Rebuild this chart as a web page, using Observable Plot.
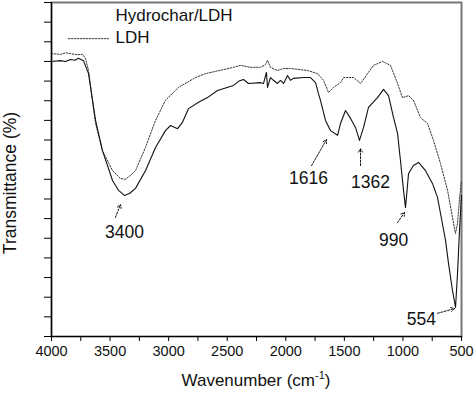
<!DOCTYPE html>
<html><head><meta charset="utf-8">
<script src="https://cdn.jsdelivr.net/npm/d3@7"></script>
<script src="https://cdn.jsdelivr.net/npm/@observablehq/plot@0.6"></script>
<style>
body{margin:0;background:#fff;}
svg{font-family:"Liberation Sans",Arial,sans-serif;}
</style>
</head><body><div id="chart"></div>
<script>
// Hydrochar/LDH spectrum (wavenumber, transmittance)
const hydroWn = [4000,3923,3880,3838,3800,3770,3727,3684,3624,3565,3479,3428,3377,3334,3283,3198,3112,3027,2984,2924,2882,2830,2745,2668,2583,2446,2400,2361,2318,2216,2190,2165,2156,2131,2105,2071,2045,2019,1985,1960,1934,1849,1789,1746,1721,1704,1661,1618,1558,1533,1490,1447,1405,1371,1336,1294,1217,1166,1123,1080,1046,1021,995,978,952,910,867,807,747,705,679,636,611,577,551,534,517,500];
const hydroT  = [70.0,70.2,70.0,70.5,70.3,70.8,70.2,66.9,55.0,47.3,39.7,37.2,35.9,36.4,37.7,42.2,48.1,52.4,53.7,52.9,54.5,58.0,59.6,60.8,62.6,63.9,65.0,65.4,64.4,64.6,64.4,67.2,63.4,65.9,65.2,64.4,65.2,64.4,66.4,65.2,65.7,65.9,65.9,64.6,61.8,60.1,55.0,52.4,51.2,54.2,57.5,55.5,53.2,49.9,53.2,58.3,60.8,62.9,61.3,55.7,51.7,44.8,37.2,32.8,41.5,43.5,44.3,42.2,38.9,35.4,31.3,24.4,18.6,11.7,7.4,16.0,27.0,35.9];

// LDH spectrum
const ldhWn = [4000,3923,3880,3838,3780,3735,3710,3684,3624,3565,3479,3411,3368,3326,3283,3198,3112,3027,2916,2771,2685,2446,2387,2301,2216,2173,2156,2131,2071,2019,1960,1815,1729,1678,1635,1593,1533,1507,1422,1362,1302,1251,1174,1106,1046,1004,952,910,850,790,739,679,619,577,551,534,517,500];
const ldhT  = [72.0,71.8,72.2,72.0,71.7,71.8,70.8,67.7,54.2,47.3,42.2,40.2,40.0,41.0,42.2,48.1,55.0,60.1,63.4,65.9,66.9,68.5,69.0,68.5,68.5,69.2,70.3,68.5,67.7,68.2,68.2,67.7,66.9,65.2,62.1,63.4,64.6,65.9,65.9,64.4,66.9,69.0,70.0,69.0,64.4,60.8,61.3,60.1,55.7,54.2,49.9,44.0,37.2,30.3,26.2,28.8,35.1,39.7];

// Peak annotations
const peakText  = ["3400","1616","1362","990","554"];
const peakLabWn = [3377,1806,1277,1080,842];
const peakLabT  = [26.5,40.2,39.2,24.4,4.3];
const arrowWn1  = [3454,1780,1362,1046,705];
const arrowT1   = [30.3,43.5,43.5,29.0,5.9];
const arrowWn2  = [3411,1652,1362,986,560];
const arrowT2   = [33.6,50.1,47.8,31.6,7.1];

// Legend
const legendNames = ["Hydrochar/LDH","LDH"];
const legendWn = [3454,3454];
const legendT  = [81.7,76.1];
const legendLineWn = [3855,3513];
const legendLineT  = 75.8;

const xTicks = d3.range(500, 4001, 250);
const yTicks = d3.range(0, 86, 5);

const hydro = hydroWn.map((w,i)=>({w, t: hydroT[i]}));
const ldh = ldhWn.map((w,i)=>({w, t: ldhT[i]}));
const peaks = peakText.map((s,i)=>({s, lw: peakLabWn[i], lt: peakLabT[i], x1: arrowWn1[i], y1: arrowT1[i], x2: arrowWn2[i], y2: arrowT2[i]}));
const legend = legendNames.map((n,i)=>({n, w: legendWn[i], t: legendT[i]}));
const legendLine = legendLineWn.map(w=>({w, t: legendLineT}));

const font = "Liberation Sans, Arial, sans-serif";

const chart = Plot.plot({
  width: 474, height: 395,
  marginLeft: 51, marginRight: 13, marginTop: 2, marginBottom: 59,
  style: {fontFamily: font, background: "#fff", overflow: "visible"},
  x: {domain: [4000, 500]},
  y: {domain: [0, 85]},
  marks: [
    Plot.frame({stroke: "#777", strokeWidth: 2}),
    Plot.axisX({ticks: xTicks, tickSize: 5, tickPadding: 4, fontSize: 14.5, label: null,
      tickFormat: d => d % 500 === 0 ? String(d) : "", stroke: "black", fill: "#111"}),
    Plot.axisY({ticks: yTicks, tickSize: 7, tickFormat: () => "", label: null, stroke: "black"}),
    Plot.ruleX([4000], {stroke: "black", strokeWidth: 1.2}),
    Plot.ruleY([0], {stroke: "black", strokeWidth: 1.2}),
    Plot.line(ldh, {x: "w", y: "t", stroke: "#333", strokeWidth: 1, strokeDasharray: "1.5,1.5"}),
    Plot.line(hydro, {x: "w", y: "t", stroke: "#111", strokeWidth: 1.1}),
    Plot.arrow(peaks, {x1: "x1", y1: "y1", x2: "x2", y2: "y2", stroke: "#111", strokeWidth: 1, headLength: 6, strokeDasharray: "2,1.5"}),
    Plot.text(peaks, {x: "lw", y: "lt", text: "s", fontSize: 17.5, fill: "#111", textAnchor: "middle"}),
    Plot.text(legend, {x: "w", y: "t", text: "n", fontSize: 17, fill: "#111", textAnchor: "start"}),
    Plot.line(legendLine, {x: "w", y: "t", stroke: "#333", strokeWidth: 1, strokeDasharray: "1.5,1.5"})
  ]
});

const svg = d3.select(chart);
const xt = svg.append("text")
  .attr("x", 256).attr("y", 386)
  .attr("text-anchor", "middle")
  .attr("font-size", 17).attr("fill", "#111")
  .attr("font-family", font);
xt.append("tspan").text("Wavenumber (cm");
xt.append("tspan").text("-1").attr("font-size", 11).attr("dy", -7);
xt.append("tspan").text(")").attr("dy", 7);

svg.append("text")
  .attr("transform", "translate(16,183) rotate(-90)")
  .attr("text-anchor", "middle")
  .attr("font-size", 17.5).attr("fill", "#111")
  .attr("font-family", font)
  .text("Transmittance (%)");

document.getElementById("chart").appendChild(chart);
</script>
</body></html>
